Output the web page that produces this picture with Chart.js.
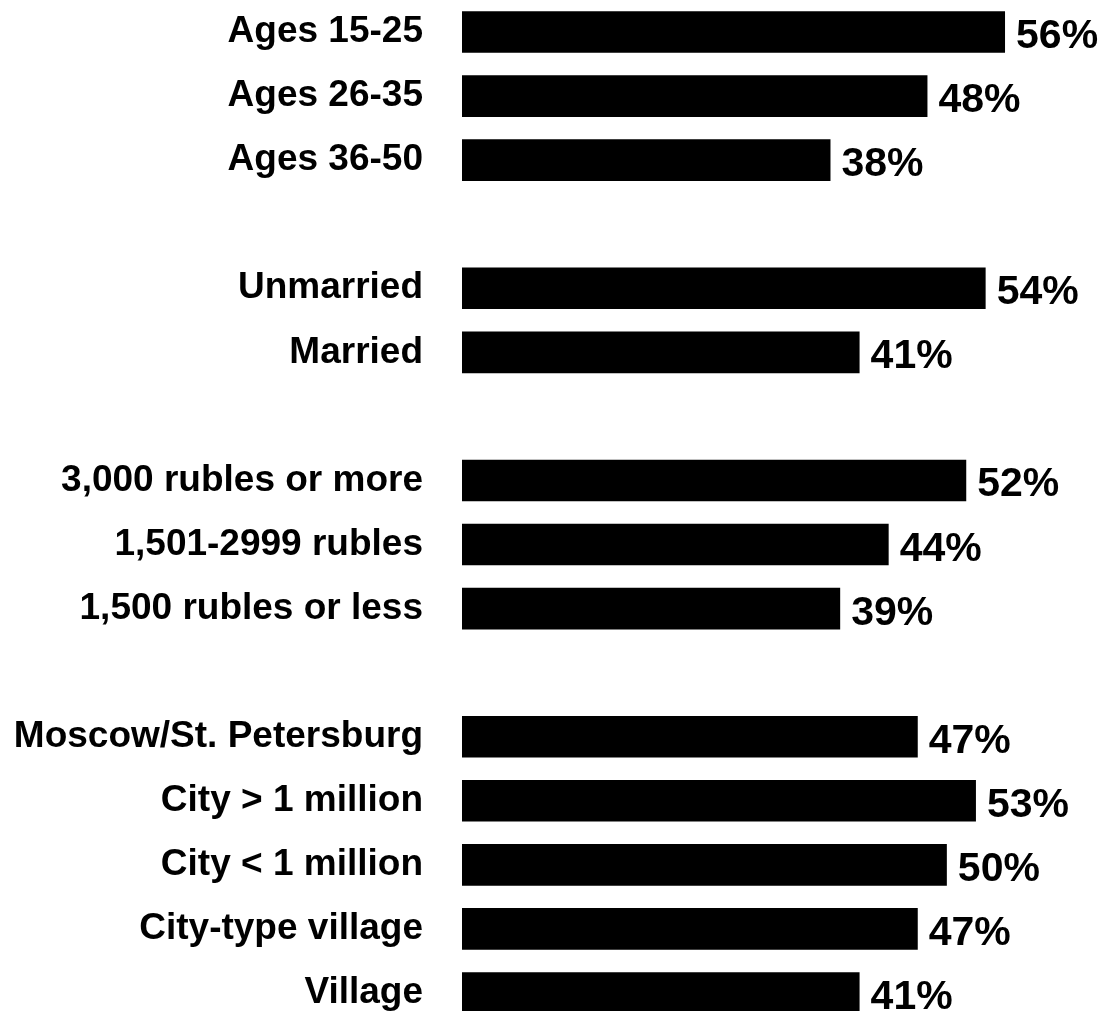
<!DOCTYPE html>
<html>
<head>
<meta charset="utf-8">
<script src="https://cdn.jsdelivr.net/npm/chart.js@4.4.0/dist/chart.umd.min.js"></script>
<style>
  html, body { margin: 0; padding: 0; background: #fff; overflow: hidden; }
  #wrap { width: 1102px; height: 1025px; }
</style>
</head>
<body>
<div id="wrap"><canvas id="c" width="1102" height="1025"></canvas></div>
<script>
const categories = [
  'Ages 15-25', 'Ages 26-35', 'Ages 36-50', '',
  'Unmarried', 'Married', '',
  '3,000 rubles or more', '1,501-2999 rubles', '1,500 rubles or less', '',
  'Moscow/St. Petersburg', 'City > 1 million', 'City < 1 million', 'City-type village', 'Village'
];
const values = [56, 48, 38, null, 54, 41, null, 52, 44, 39, null, 47, 53, 50, 47, 41];
const xMin = 0;
const xMax = 66;

const valueLabels = {
  id: 'valueLabels',
  afterDatasetsDraw(chart) {
    const ctx = chart.ctx;
    const meta = chart.getDatasetMeta(0);
    ctx.save();
    ctx.font = 'bold 41px "Liberation Sans", Arial, sans-serif';
    ctx.fillStyle = '#000';
    ctx.textAlign = 'left';
    ctx.textBaseline = 'alphabetic';
    meta.data.forEach((bar, i) => {
      const v = values[i];
      if (v === null || v === undefined) return;
      ctx.fillText(v + '%', bar.x + 11, bar.y + 16);
    });
    ctx.restore();
  }
};

new Chart(document.getElementById('c'), {
  type: 'bar',
  data: {
    labels: categories,
    datasets: [{
      data: values,
      backgroundColor: '#000',
      borderWidth: 0,
      barPercentage: 0.65,
      categoryPercentage: 1.0
    }]
  },
  options: {
    indexAxis: 'y',
    responsive: false,
    animation: false,
    layout: { padding: 0 },
    plugins: { legend: { display: false }, tooltip: { enabled: false } },
    scales: {
      x: {
        display: false,
        min: xMin,
        max: xMax
      },
      y: {
        afterFit(scale) {
          scale.width = 462;
          scale.paddingTop = 0;
          scale.paddingBottom = 0;
        },
        grid: { display: false, drawTicks: false },
        border: { display: false },
        ticks: {
          padding: 39,
          color: '#000',
          autoSkip: false,
          font: { family: '"Liberation Sans", Arial, sans-serif', size: 37, weight: 'bold' }
        }
      }
    }
  },
  plugins: [valueLabels]
});
</script>
</body>
</html>
